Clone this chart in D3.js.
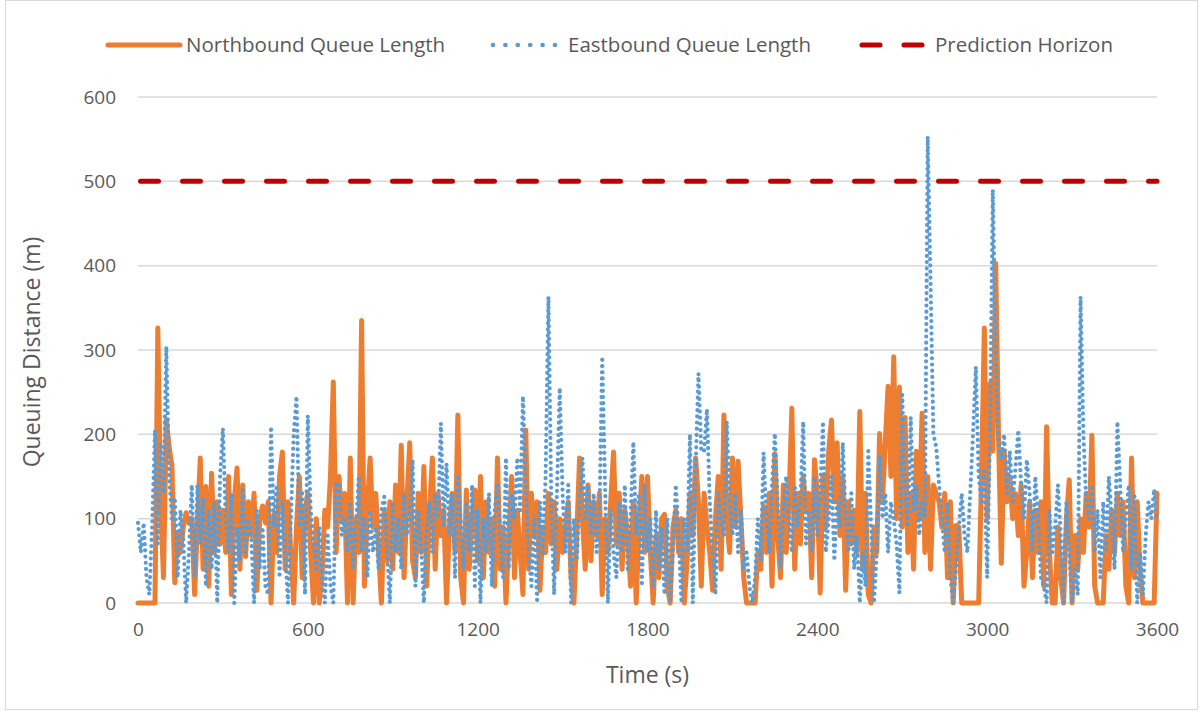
<!DOCTYPE html>
<html>
<head>
<meta charset="utf-8">
<script src="https://cdn.jsdelivr.net/npm/d3@7"></script>
<style>
  body { margin: 0; background: #fff; }
  text { font-family: "Open Sans", sans-serif; fill: #595959; }
</style>
</head>
<body>
<div id="chart"></div>
<script>
// time stamps (s), one sample every 10 s
var times = d3.range(0, 3601, 10);

// queue lengths (m)
var northbound = [
  0,0,0,0,0,0,0,326,120,30,
  217,185,162,24,83,60,90,107,95,100,
  10,95,172,40,138,20,154,60,120,70,
  110,60,150,10,120,160,40,140,55,120,
  80,130,15,100,115,95,120,0,105,60,
  150,179,40,120,60,0,90,150,30,110,
  130,60,0,100,0,30,110,90,150,262,
  60,150,100,130,0,172,0,100,60,335,
  20,110,172,90,130,60,0,110,50,120,
  40,140,60,187,30,120,190,50,30,130,
  60,162,20,110,172,40,130,80,110,0,
  90,130,60,223,30,0,134,40,100,134,
  50,150,30,120,60,100,20,172,40,90,
  0,80,150,30,110,60,10,205,40,130,
  80,120,15,90,60,130,70,120,40,100,
  60,90,120,30,0,80,172,100,40,140,
  50,120,80,130,10,100,60,120,179,70,
  130,40,110,80,20,120,0,90,150,60,
  150,60,0,80,30,100,105,20,0,90,
  110,60,100,0,50,130,80,172,120,20,
  130,90,60,15,100,150,40,223,100,60,
  172,90,168,100,30,0,0,0,0,60,
  40,115,60,130,20,177,80,30,140,60,
  120,231,40,130,70,150,110,130,30,170,
  130,12,150,90,180,217,120,190,80,150,
  15,120,70,110,60,227,40,130,10,0,
  90,60,201,120,190,257,150,292,100,256,
  90,220,60,130,40,180,100,225,60,150,
  40,140,130,120,90,130,30,120,0,92,
  90,0,0,0,0,0,0,0,150,326,
  100,260,180,403,200,47,180,120,150,100,
  130,80,140,20,60,120,30,110,60,120,
  20,209,60,0,0,90,30,0,100,146,
  0,80,40,100,60,130,90,199,20,0,
  0,0,80,40,110,60,130,80,120,20,
  0,172,30,120,40,0,0,0,0,0,
  130
];

var eastbound = [
  95,60,95,30,10,90,205,70,190,130,
  304,150,100,125,30,110,75,0,60,140,
  30,140,70,125,20,110,40,120,0,150,
  207,100,60,130,0,90,50,137,60,100,
  80,0,110,40,90,20,10,209,90,140,
  30,120,60,0,100,200,245,90,130,10,
  222,110,70,40,90,30,0,80,20,0,
  142,142,80,100,60,120,40,90,150,60,
  100,30,110,60,90,40,110,126,60,0,
  120,60,100,40,130,80,100,170,20,110,
  70,0,90,120,60,130,100,213,90,165,
  80,130,30,152,100,40,120,60,140,20,
  110,0,100,60,130,20,110,140,80,30,
  172,40,130,100,172,110,245,140,60,20,
  100,0,120,60,150,363,120,10,130,255,
  130,60,140,0,100,50,120,172,100,140,
  80,130,60,100,292,140,0,110,60,30,
  120,60,140,40,100,191,80,130,20,140,
  60,100,20,110,40,90,10,100,0,60,
  140,80,0,100,60,200,0,160,272,180,
  180,230,120,60,10,130,100,80,215,120,
  80,130,60,110,40,60,20,0,30,100,
  50,178,100,60,140,201,120,40,110,150,
  100,60,140,90,120,215,70,110,60,150,
  80,130,215,60,100,150,50,120,90,190,
  100,60,130,40,80,0,60,20,180,90,
  0,60,175,100,130,60,120,100,70,12,
  247,130,90,220,110,140,80,120,100,553,
  380,200,185,140,100,60,120,30,0,40,
  90,130,80,60,130,200,280,150,120,160,
  30,200,490,300,190,170,200,130,180,120,
  160,205,140,100,170,130,60,150,100,30,
  20,0,110,60,90,140,80,0,120,60,
  0,40,10,363,200,120,100,140,60,110,
  30,120,60,150,100,40,215,140,60,100,
  140,40,130,0,60,10,80,120,100,135,
  100
];

// prediction horizon (m)
var horizonTimes = [0, 3600];
var horizonValues = [500, 500];

var xTicks = [0, 600, 1200, 1800, 2400, 3000, 3600];
var yTicks = [0, 100, 200, 300, 400, 500, 600];
var seriesNames = ["Northbound Queue Length", "Eastbound Queue Length", "Prediction Horizon"];

var W = 1203, H = 715;
var margin = {top: 97, right: 46, bottom: 112, left: 138},
    width = W - margin.left - margin.right,
    height = H - margin.top - margin.bottom;

var svg = d3.select("#chart")
    .append("svg")
    .attr("width", W)
    .attr("height", H);

// chart border
svg.append("rect")
    .attr("x", 5.5).attr("y", 0.5)
    .attr("width", 1192).attr("height", 709)
    .attr("fill", "none")
    .attr("stroke", "#d9d9d9")
    .attr("stroke-width", 1);

var g = svg.append("g")
    .attr("transform", `translate(${margin.left}, ${margin.top})`);

var x = d3.scaleLinear().domain([0, 3600]).range([0, width]);
var y = d3.scaleLinear().domain([0, 600]).range([height, 0]);

// gridlines
g.append("g")
    .selectAll("line")
    .data(yTicks)
    .enter()
    .append("line")
    .attr("x1", 0).attr("x2", width)
    .attr("y1", d => y(d)).attr("y2", d => y(d))
    .attr("stroke", "#d9d9d9")
    .attr("stroke-width", 1.5);

// Y axis labels
var yAxis = g.append("g")
    .call(d3.axisLeft(y).tickValues(yTicks).tickSize(0).tickPadding(22).tickFormat(d3.format("d")));
yAxis.select(".domain").remove();
yAxis.selectAll("text").style("font-size", "19px").attr("fill", "#595959");

// X axis labels
var xAxis = g.append("g")
    .attr("transform", `translate(0, ${height})`)
    .call(d3.axisBottom(x).tickValues(xTicks).tickSize(0).tickPadding(20).tickFormat(d3.format("d")));
xAxis.select(".domain").remove();
xAxis.selectAll("text").style("font-size", "19px").attr("fill", "#595959");

// axis titles
svg.append("text")
    .attr("text-anchor", "middle")
    .attr("x", margin.left + width / 2)
    .attr("y", 683)
    .style("font-size", "23px")
    .text("Time (s)");

svg.append("text")
    .attr("text-anchor", "middle")
    .attr("transform", "rotate(-90)")
    .attr("x", -352)
    .attr("y", 40)
    .style("font-size", "23px")
    .text("Queuing Distance (m)");

// lines
var nbLine = d3.line()
    .x((d, i) => x(times[i]))
    .y(d => y(d));

g.append("path")
    .datum(northbound)
    .attr("d", nbLine)
    .attr("fill", "none")
    .attr("stroke", "#ed7d31")
    .attr("stroke-width", 5)
    .attr("stroke-linejoin", "round")
    .attr("stroke-linecap", "round");

g.append("path")
    .datum(eastbound)
    .attr("d", nbLine)
    .attr("fill", "none")
    .attr("stroke", "#5b9bd5")
    .attr("stroke-width", 4.2)
    .attr("stroke-linecap", "round")
    .attr("stroke-dasharray", "0,6.2");

var hLine = d3.line()
    .x((d, i) => x(horizonTimes[i]))
    .y(d => y(d));

g.append("path")
    .datum(horizonValues)
    .attr("d", hLine)
    .attr("fill", "none")
    .attr("stroke", "#c00000")
    .attr("stroke-width", 5)
    .attr("stroke-linecap", "round")
    .attr("stroke-dasharray", "18,24")
    .attr("stroke-dashoffset", -2.5);

// legend
var legend = svg.append("g").attr("transform", "translate(0, 45)");
var legendItems = [
  {x: 108, w: 72, color: "#ed7d31", sw: 5, dash: null, tx: 186},
  {x: 493, w: 63, color: "#5b9bd5", sw: 4.7, dash: "0,12.4", tx: 568},
  {x: 862, w: 61, color: "#c00000", sw: 5, dash: "18,24", tx: 935}
];
legendItems.forEach(function(d, i) {
  legend.append("line")
      .attr("x1", d.x).attr("x2", d.x + d.w)
      .attr("y1", 0).attr("y2", 0)
      .attr("stroke", d.color)
      .attr("stroke-width", d.sw)
      .attr("stroke-linecap", "round")
      .attr("stroke-dasharray", d.dash);
  legend.append("text")
      .attr("x", d.tx)
      .attr("y", 0)
      .attr("dy", "0.35em")
      .style("font-size", "20.5px")
      .text(seriesNames[i]);
});
</script>
</body>
</html>
